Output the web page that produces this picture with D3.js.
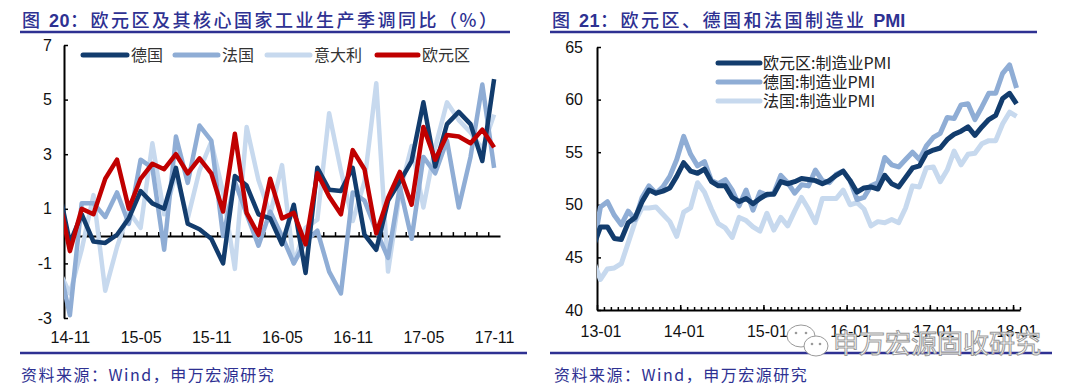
<!DOCTYPE html>
<html>
<head>
<meta charset="utf-8">
<script src="https://cdn.jsdelivr.net/npm/d3@7"></script>
<style>
body { margin: 0; background: #fff; }
svg { display: block; }
.tick text { font-family: "Liberation Sans", Arial, sans-serif; font-size: 16px; fill: #111; }
.cn { font-family: "Noto Sans CJK SC", sans-serif; }
</style>
</head>
<body>
<script>
/*
*    two charts: euro area industrial production (left), manufacturing PMI (right)
*/

var width = 1080;
var height = 392;

// left chart data (first month sits left of the axis and is clipped)
var ipMonths = ["14-10","14-11","14-12","15-01","15-02","15-03","15-04","15-05","15-06","15-07",
    "15-08","15-09","15-10","15-11","15-12","16-01","16-02","16-03","16-04","16-05","16-06","16-07",
    "16-08","16-09","16-10","16-11","16-12","17-01","17-02","17-03","17-04","17-05","17-06","17-07",
    "17-08","17-09","17-10","17-11"];
var ipGermany = [1.85, -0.25, 0.8, -0.2, -0.25, 0.05, 0.65, 1.65, 1.2, 1.0, 2.5, 0.45, 0.25, -0.1,
    -1.0, 2.2, 1.85, 0.8, 0.65, -0.3, 1.15, -1.35, 2.5, 1.7, 1.65, 2.5, 0.05, -0.5, 1.3, 2.0, 2.75,
    4.9, 2.55, 4.1, 4.55, 4.1, 2.75, 5.75];
var ipFrance = [-0.9, -2.9, 1.2, 1.2, 0.7, 1.6, 0.45, 2.8, 2.5, -0.5, 3.65, 1.95, 4.05, 3.5, 0.0,
    2.0, 0.8, -0.35, 0.9, 0.0, -1.0, -0.2, 0.2, -1.3, -2.1, 1.6, 1.3, 0.2, -0.8, 1.8, -0.1, 2.9,
    2.3, 3.5, 1.05, 2.9, 5.55, 2.5];
var ipItaly = [-1.2, -2.1, -0.5, 1.5, -2.0, -0.4, 0.9, 0.3, 3.4, 0.8, 2.25, 0.65, 2.4, 3.45, 1.6,
    -1.2, 4.0, 2.05, 0.8, 2.6, -1.0, 0.3, 0.6, 4.5, 2.4, 0.55, 2.0, 5.6, -1.3, 1.6, 3.3, 1.05, 3.25,
    4.9, 4.25, 3.8, 3.2, 4.45];
var ipEuro = [1.55, -0.55, 1.0, 0.8, 2.1, 2.8, 1.0, 2.1, 2.65, 2.45, 3.0, 2.3, 2.85, 2.3, 0.9, 3.75,
    0.85, 0.05, 2.1, 0.65, 0.85, -0.3, 2.3, 1.45, 0.8, 3.15, 2.45, 0.1, 1.4, 2.35, 1.15, 4.0, 2.8,
    3.7, 3.65, 3.4, 3.9, 3.25];
var ipTickLabels = ["14-11","15-05","15-11","16-05","16-11","17-05","17-11"];
var ipYTicks = [-3, -1, 1, 3, 5, 7];
var ipNames = ["德国", "法国", "意大利", "欧元区"];

// right chart data
var pmiMonths = ["12-12",
    "13-01","13-02","13-03","13-04","13-05","13-06","13-07","13-08","13-09","13-10","13-11","13-12",
    "14-01","14-02","14-03","14-04","14-05","14-06","14-07","14-08","14-09","14-10","14-11","14-12",
    "15-01","15-02","15-03","15-04","15-05","15-06","15-07","15-08","15-09","15-10","15-11","15-12",
    "16-01","16-02","16-03","16-04","16-05","16-06","16-07","16-08","16-09","16-10","16-11","16-12",
    "17-01","17-02","17-03","17-04","17-05","17-06","17-07","17-08","17-09","17-10","17-11","17-12",
    "18-01"];
var pmiEuro = [46.1,
    47.9, 47.9, 46.8, 46.7, 48.3, 48.8, 50.3, 51.4, 51.1, 51.3, 51.6, 52.7,
    54.0, 53.2, 53.0, 53.4, 52.2, 51.8, 51.8, 50.7, 50.3, 50.6, 50.1, 50.6,
    51.0, 51.0, 52.2, 52.0, 52.2, 52.5, 52.4, 52.3, 52.0, 52.3, 52.8, 53.2,
    52.3, 51.2, 51.6, 51.7, 51.5, 52.8, 52.0, 51.7, 52.6, 53.5, 53.7, 54.9,
    55.2, 55.4, 56.2, 56.7, 57.0, 57.4, 56.6, 57.4, 58.1, 58.5, 60.1, 60.6,
    59.6];
var pmiGermany = [46.0,
    49.8, 50.3, 49.0, 48.1, 49.4, 48.6, 50.7, 51.8, 51.1, 51.7, 52.7, 54.3,
    56.5, 54.8, 53.7, 54.1, 52.3, 52.0, 52.4, 51.4, 49.9, 51.4, 49.5, 51.2,
    50.9, 51.1, 52.8, 52.1, 51.1, 51.9, 51.8, 53.3, 52.3, 52.1, 52.9, 53.2,
    52.3, 50.5, 50.7, 51.8, 52.1, 54.5, 53.8, 53.6, 54.3, 55.0, 54.3, 55.6,
    56.4, 56.8, 58.3, 58.2, 59.5, 59.6, 58.1, 59.3, 60.6, 60.6, 62.5, 63.3,
    61.1];
var pmiFrance = [44.6,
    42.9, 43.9, 44.0, 44.4, 46.4, 48.4, 49.7, 49.7, 49.8, 49.1, 48.4, 47.0,
    49.3, 49.7, 52.1, 51.2, 49.6, 48.2, 47.8, 46.9, 48.8, 48.5, 47.9, 47.5,
    49.2, 47.6, 48.8, 48.0, 49.4, 50.7, 49.6, 48.3, 50.6, 50.6, 50.6, 51.4,
    50.0, 50.2, 49.6, 48.0, 48.4, 48.3, 48.6, 48.3, 49.7, 51.8, 51.7, 53.5,
    53.6, 52.2, 53.3, 55.1, 53.8, 54.8, 54.9, 55.8, 56.1, 56.1, 57.7, 58.8,
    58.4];
var pmiTickLabels = ["13-01","14-01","15-01","16-01","17-01","18-01"];
var pmiYTicks = [40, 45, 50, 55, 60, 65];
var pmiNames = ["欧元区:制造业PMI", "德国:制造业PMI", "法国:制造业PMI"];

// colours
var navy = "#123c6d";
var mid = "#8fadd5";
var pale = "#c7d9ee";
var red = "#c00000";
var ink = "#2e3192";

//Canvas
const svg = d3.select("body")
.append("svg")
    .attr("width", width)
    .attr("height", height);

var defs = svg.append("defs");
defs.append("clipPath").attr("id", "clipL")
    .append("rect").attr("x", 64).attr("y", 0).attr("width", 436).attr("height", height);
defs.append("clipPath").attr("id", "clipR")
    .append("rect").attr("x", 597).attr("y", 0).attr("width", 423).attr("height", height);

//Headers, rules, source lines
function header(x0, x1, label, num, rest, tail) {
    var t = svg.append("text")
        .attr("class", "cn")
        .attr("x", x0 + 2)
        .attr("y", 27)
        .attr("font-size", 18)
        .attr("font-weight", 500)
        .attr("letter-spacing", 2.5)
        .attr("fill", ink);
    t.append("tspan").text(label);
    t.append("tspan").attr("font-family", "Liberation Sans, Arial, sans-serif")
        .attr("font-weight", "bold").attr("letter-spacing", 0.5).text(num);
    t.append("tspan").text(rest);
    if (tail) {
        t.append("tspan").attr("font-family", "Liberation Sans, Arial, sans-serif")
            .attr("font-weight", "bold").attr("letter-spacing", 0).text(tail);
    }
    svg.append("line")
        .attr("x1", x0).attr("x2", x1).attr("y1", 32).attr("y2", 32)
        .attr("stroke", ink).attr("stroke-width", 2.5);
}
header(20, 510, "图 ", "20", "：欧元区及其核心国家工业生产季调同比（%）");
header(550, 1037, "图 ", "21", "：欧元区、德国和法国制造业 ", "PMI");

[[20, 527], [550, 1052]].forEach(function(r) {
    svg.append("line")
        .attr("x1", r[0]).attr("x2", r[1]).attr("y1", 353).attr("y2", 353)
        .attr("stroke", ink).attr("stroke-width", 2.5);
});
[21, 554].forEach(function(x0) {
    svg.append("text")
        .attr("class", "cn")
        .attr("x", x0)
        .attr("y", 381)
        .attr("font-size", 16)
        .attr("letter-spacing", 1.5)
        .attr("fill", ink)
        .text("资料来源：Wind，申万宏源研究");
});

function styleAxis(g) {
    g.selectAll(".domain").attr("stroke", "#000").attr("stroke-width", 2);
    g.selectAll(".tick line").attr("stroke", "#000").attr("stroke-width", 1.5);
}

/* ---------------- left chart ---------------- */
var gL = svg.append("g");

var xL = d3.scaleLinear().domain([0.5, 37.5]).range([64, 500]);
var yL = d3.scaleLinear().domain([-3, 7]).range([318, 45]);

// zero line with monthly ticks
var zeroAxis = gL.append("g")
    .attr("transform", "translate(0," + yL(0) + ")")
    .call(d3.axisBottom(xL)
        .tickValues(d3.range(1.5, 37, 1))
        .tickSize(-4)
        .tickSizeOuter(0)
        .tickFormat(""));
styleAxis(zeroAxis);

// labels at the bottom
var xLabelsL = gL.append("g")
    .attr("transform", "translate(0,318)")
    .call(d3.axisBottom(xL)
        .tickValues(ipTickLabels.map(function(m) { return ipMonths.indexOf(m); }))
        .tickSize(0)
        .tickPadding(14)
        .tickFormat(function(i) { return ipMonths[i]; }));
xLabelsL.select(".domain").remove();

var yAxisL = gL.append("g")
    .attr("transform", "translate(64,0)")
    .call(d3.axisLeft(yL)
        .tickValues(ipYTicks)
        .tickSize(-4)
        .tickSizeOuter(0)
        .tickPadding(12)
        .tickFormat(function(d) { return String(d); }));
styleAxis(yAxisL);

var lineL = d3.line()
    .x(function(d, i) { return xL(i); })
    .y(function(d) { return yL(d); });

var ipSeries = [
    {values: ipItaly, color: pale},
    {values: ipFrance, color: mid},
    {values: ipGermany, color: navy},
    {values: ipEuro, color: red}
];
gL.append("g").attr("clip-path", "url(#clipL)")
    .selectAll("path")
    .data(ipSeries)
    .enter()
    .append("path")
        .attr("d", function(s) { return lineL(s.values); })
        .attr("fill", "none")
        .attr("stroke", function(s) { return s.color; })
        .attr("stroke-width", 4.5)
        .attr("stroke-linejoin", "round");

// legend
var legL = [
    {name: ipNames[0], color: navy, x: 83, w: 44},
    {name: ipNames[1], color: mid, x: 175, w: 43},
    {name: ipNames[2], color: pale, x: 267, w: 43},
    {name: ipNames[3], color: red, x: 377, w: 41}
];
var legItems = gL.selectAll(".leg").data(legL).enter().append("g").attr("class", "leg");
legItems.append("line")
    .attr("x1", function(d) { return d.x; })
    .attr("x2", function(d) { return d.x + d.w; })
    .attr("y1", 55).attr("y2", 55)
    .attr("stroke", function(d) { return d.color; })
    .attr("stroke-width", 5)
    .attr("stroke-linecap", "round");
legItems.append("text")
    .attr("class", "cn")
    .attr("x", function(d) { return d.x + d.w + 4; })
    .attr("y", 61)
    .attr("font-size", 16)
    .attr("fill", "#333")
    .text(function(d) { return d.name; });

/* ---------------- right chart ---------------- */
var gR = svg.append("g");

var xR = d3.scaleLinear().domain([0.5, 61.5]).range([597, 1020]);
var yR = d3.scaleLinear().domain([40, 65]).range([310, 47]);

var yearStarts = pmiTickLabels.map(function(m) { return pmiMonths.indexOf(m); });

var minorAxis = gR.append("g")
    .attr("transform", "translate(0,310)")
    .call(d3.axisBottom(xR)
        .tickValues(d3.range(1.5, 62, 1))
        .tickSize(-3)
        .tickSizeOuter(0)
        .tickFormat(""));
styleAxis(minorAxis);

var majorAxis = gR.append("g")
    .attr("transform", "translate(0,310)")
    .call(d3.axisBottom(xR)
        .tickValues(yearStarts.map(function(i) { return i - 0.5; }))
        .tickSize(-5)
        .tickSizeOuter(0)
        .tickFormat(""));
majorAxis.select(".domain").remove();
styleAxis(majorAxis);

var xLabelsR = gR.append("g")
    .attr("transform", "translate(0,310)")
    .call(d3.axisBottom(xR)
        .tickValues(yearStarts)
        .tickSize(0)
        .tickPadding(16)
        .tickFormat(function(i) { return pmiMonths[i]; }));
xLabelsR.select(".domain").remove();

var yAxisR = gR.append("g")
    .attr("transform", "translate(597,0)")
    .call(d3.axisLeft(yR)
        .tickValues(pmiYTicks)
        .tickSize(-4)
        .tickSizeOuter(0)
        .tickPadding(14));
styleAxis(yAxisR);

var lineR = d3.line()
    .x(function(d, i) { return xR(i); })
    .y(function(d) { return yR(d); });

var pmiSeries = [
    {values: pmiFrance, color: pale},
    {values: pmiGermany, color: mid},
    {values: pmiEuro, color: navy}
];
gR.append("g").attr("clip-path", "url(#clipR)")
    .selectAll("path")
    .data(pmiSeries)
    .enter()
    .append("path")
        .attr("d", function(s) { return lineR(s.values); })
        .attr("fill", "none")
        .attr("stroke", function(s) { return s.color; })
        .attr("stroke-width", 5)
        .attr("stroke-linejoin", "round");

var legR = [
    {name: pmiNames[0], color: navy},
    {name: pmiNames[1], color: mid},
    {name: pmiNames[2], color: pale}
];
var legRItems = gR.selectAll(".legr").data(legR).enter().append("g").attr("class", "legr");
legRItems.append("line")
    .attr("x1", 718).attr("x2", 760)
    .attr("y1", function(d, i) { return 63 + i * 19; })
    .attr("y2", function(d, i) { return 63 + i * 19; })
    .attr("stroke", function(d) { return d.color; })
    .attr("stroke-width", 5)
    .attr("stroke-linecap", "round");
legRItems.append("text")
    .attr("class", "cn")
    .attr("x", 763)
    .attr("y", function(d, i) { return 69 + i * 19; })
    .attr("font-size", 16)
    .attr("fill", "#222")
    .text(function(d) { return d.name; });

/* ---------------- watermark ---------------- */
var wm = svg.append("g").attr("fill", "#fff").attr("stroke", "#9a9a9a").attr("stroke-width", 1);
wm.append("ellipse").attr("cx", 801).attr("cy", 336).attr("rx", 14).attr("ry", 11);
wm.append("ellipse").attr("cx", 816).attr("cy", 346).attr("rx", 12).attr("ry", 10);
[[796, 333], [806, 333], [812, 344], [820, 344]].forEach(function(p) {
    wm.append("circle").attr("cx", p[0]).attr("cy", p[1]).attr("r", 1.3)
        .attr("fill", "#9a9a9a").attr("stroke", "none");
});
wm.append("text")
    .attr("class", "cn")
    .attr("x", 833)
    .attr("y", 353)
    .attr("font-size", 26)
    .attr("stroke-width", 1)
    .text("申万宏源固收研究");
</script>
</body>
</html>
